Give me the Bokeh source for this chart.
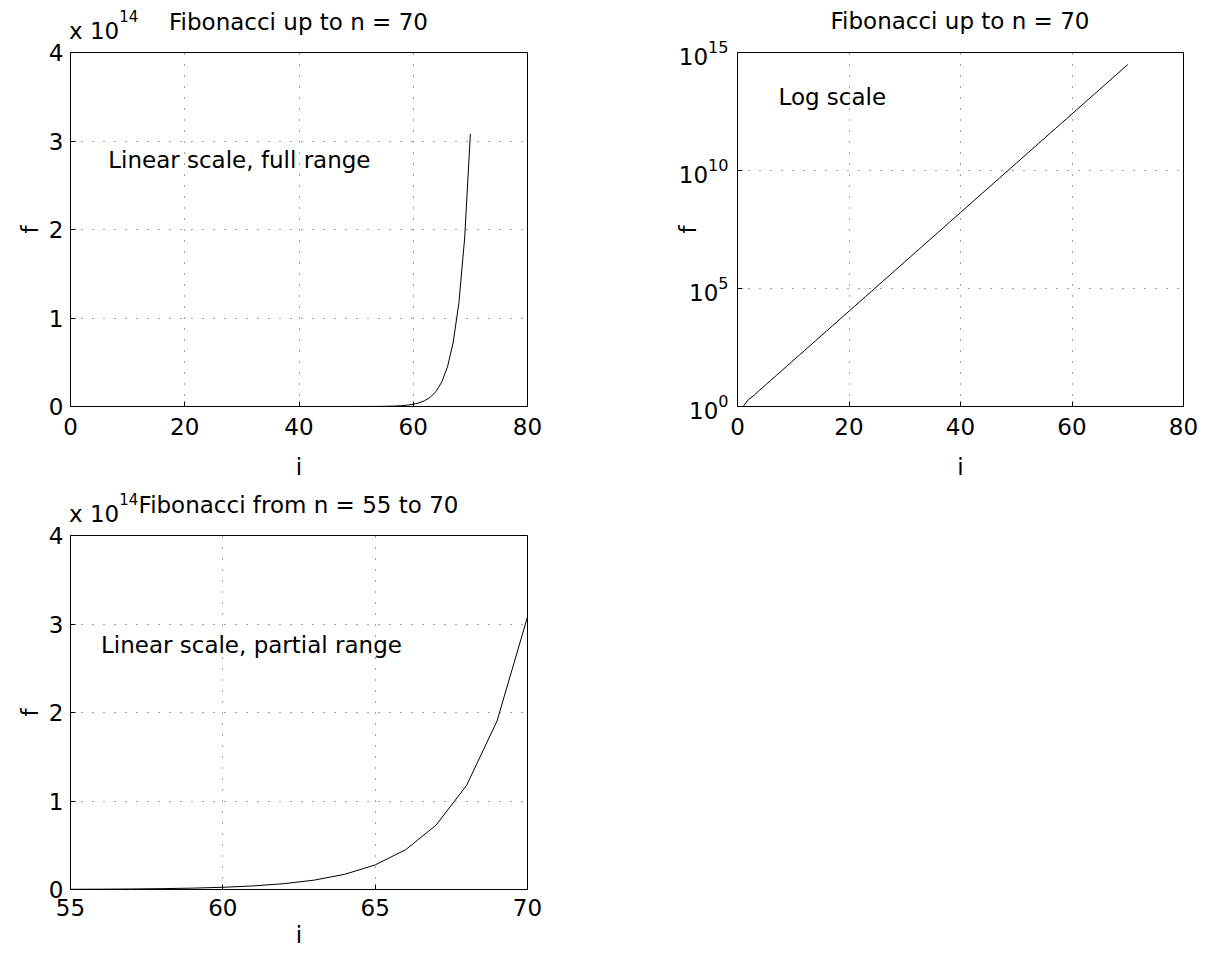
from bokeh.plotting import figure
from bokeh.models import (Range1d, FixedTicker, Label, CustomJSTickFormatter,
                          LogTickFormatter, Div)
from bokeh.layouts import column, row
from bokeh.embed import file_html
from bokeh.resources import INLINE

# ---- data ----
i_values = list(range(1, 71))
f_values = [1, 2, 3, 5, 8, 13, 21, 34, 55, 89, 144, 233, 377, 610, 987, 1597,
            2584, 4181, 6765, 10946, 17711, 28657, 46368, 75025, 121393, 196418,
            317811, 514229, 832040, 1346269, 2178309, 3524578, 5702887, 9227465,
            14930352, 24157817, 39088169, 63245986, 102334155, 165580141,
            267914296, 433494437, 701408733, 1134903170, 1836311903, 2971215073,
            4807526976, 7778742049, 12586269025, 20365011074, 32951280099,
            53316291173, 86267571272, 139583862445, 225851433717, 365435296162,
            591286729879, 956722026041, 1548008755920, 2504730781961,
            4052739537881, 6557470319842, 10610209857723, 17167680177565,
            27777890035288, 44945570212853, 72723460248141, 117669030460994,
            190392490709135, 308061521170129]
partial_start = 55
x_ticks_full = [0, 20, 40, 60, 80]
x_ticks_partial = [55, 60, 65, 70]
y_ticks_linear = [0, 1e14, 2e14, 3e14, 4e14]
log_exponents = [0, 5, 10, 15]
multiplier_exponent = 14
titles = ["Fibonacci up to n = 70", "Fibonacci up to n = 70", "Fibonacci from n = 55 to 70"]
notes = ["Linear scale, full range", "Log scale", "Linear scale, partial range"]

FONT = "DejaVu Sans"
FS = "23px"
FRAME_W_LIN, FRAME_W_LOG, FRAME_H = 457, 446, 354
TOP_LIN = 12
TOP_LOG = 18


def style(p, xticks, tick_standoff, label_standoff):
    p.outline_line_color = "black"
    p.outline_line_width = 1
    p.background_fill_color = "white"
    p.border_fill_color = "white"
    for ax in p.xaxis + p.yaxis:
        ax.axis_line_color = "black"
        ax.major_tick_line_color = "black"
        ax.major_tick_in = 5
        ax.major_tick_out = 0
        ax.minor_tick_line_color = None
        ax.major_label_text_font = FONT
        ax.major_label_text_font_size = FS
        ax.major_label_text_color = "black"
        ax.axis_label_text_font = FONT
        ax.axis_label_text_font_size = FS
        ax.axis_label_text_font_style = "normal"
        ax.axis_label_text_color = "black"
    p.xaxis.ticker = FixedTicker(ticks=xticks)
    p.xaxis.major_label_standoff = tick_standoff
    p.xaxis.axis_label = "i"
    p.xaxis.axis_label_standoff = label_standoff
    p.yaxis.axis_label = "f"
    for g in p.grid:
        g.grid_line_color = "#444444"
        g.grid_line_dash = "1 10"
        g.grid_line_width = 1


def header(width, head_h, top_border, frame_left, frame_w, title, multiplier, title_top=11):
    shift = head_h + top_border - 52   # keep texts at fixed distance above the frame
    parts = [f'<div style="position:relative;width:{width}px;height:{head_h}px;'
             f'font-family:\'{FONT}\';font-size:{FS};color:black;line-height:23px;">']
    parts.append(f'<span style="position:absolute;left:{frame_left}px;width:{frame_w}px;'
                 f'top:{title_top + shift}px;text-align:center;white-space:nowrap;">{title}</span>')
    if multiplier is not None:
        parts.append(f'<span style="position:absolute;left:{frame_left - 1}px;top:{20 + shift}px;'
                     f'white-space:nowrap;">x 10<span style="font-size:15px;position:relative;'
                     f'top:-17px;">{multiplier}</span></span>')
    parts.append('</div>')
    return Div(text="".join(parts), width=width, height=head_h, margin=0)


def text_label(p, x, y, txt):
    p.add_layout(Label(x=x, y=y, text=txt, text_font=FONT, text_font_size=FS,
                       text_color="black", text_align="left", text_baseline="middle"))


def make_linear(xr, xticks, xs, ys, note, note_xy, bottom, tick_standoff, label_standoff):
    p = figure(frame_width=FRAME_W_LIN, frame_height=FRAME_H, x_range=Range1d(*xr),
               y_range=Range1d(0, 4e14), output_backend="svg", toolbar_location=None,
               min_border_left=70, min_border_right=20,
               min_border_top=TOP_LIN, min_border_bottom=bottom)
    p.line(xs, ys, line_color="black", line_width=1)
    style(p, xticks, tick_standoff, label_standoff)
    p.yaxis.ticker = FixedTicker(ticks=y_ticks_linear)
    p.yaxis.formatter = CustomJSTickFormatter(code="return (tick / 1e14).toFixed(0);")
    p.yaxis.major_label_standoff = 7
    p.yaxis.axis_label_standoff = 3
    text_label(p, note_xy[0], note_xy[1], note)
    return p


pA = make_linear((0, 80), x_ticks_full, i_values, f_values, notes[0],
                 (6.6, 2.78e14), 83, 11, 16)

k = i_values.index(partial_start)
pC = make_linear((55, 70), x_ticks_partial, i_values[k:], f_values[k:], notes[2],
                 (56.0, 2.76e14), 66, 9, 3)

# log panel
log_ticks = [10 ** e for e in log_exponents]
pB = figure(frame_width=FRAME_W_LOG, frame_height=FRAME_H, x_range=Range1d(0, 80),
            y_range=Range1d(1, 1e15), y_axis_type="log", output_backend="svg",
            toolbar_location=None, min_border_left=190, min_border_right=15,
            min_border_top=TOP_LOG, min_border_bottom=83)
pB.line(i_values, f_values, line_color="black", line_width=1)
style(pB, x_ticks_full, 11, 16)
pB.yaxis.ticker = FixedTicker(ticks=log_ticks)
pB.yaxis.formatter = LogTickFormatter()
pB.yaxis.major_label_standoff = 9
pB.yaxis.axis_label_standoff = -25
text_label(pB, 7.35, 10 ** 13.1, notes[1])

hA = header(547, 40, TOP_LIN, 70, FRAME_W_LIN, titles[0], multiplier_exponent)
hB = header(651, 34, TOP_LOG, 190, FRAME_W_LOG, titles[1], None, title_top=10)
hC = header(547, 34, TOP_LIN, 70, FRAME_W_LIN, titles[2], multiplier_exponent)

layout = column(row(column(hA, pA, spacing=0), column(hB, pB, spacing=0), spacing=0),
                column(hC, pC, spacing=0), spacing=0)
open("out.html", "w").write(file_html(layout, INLINE))
